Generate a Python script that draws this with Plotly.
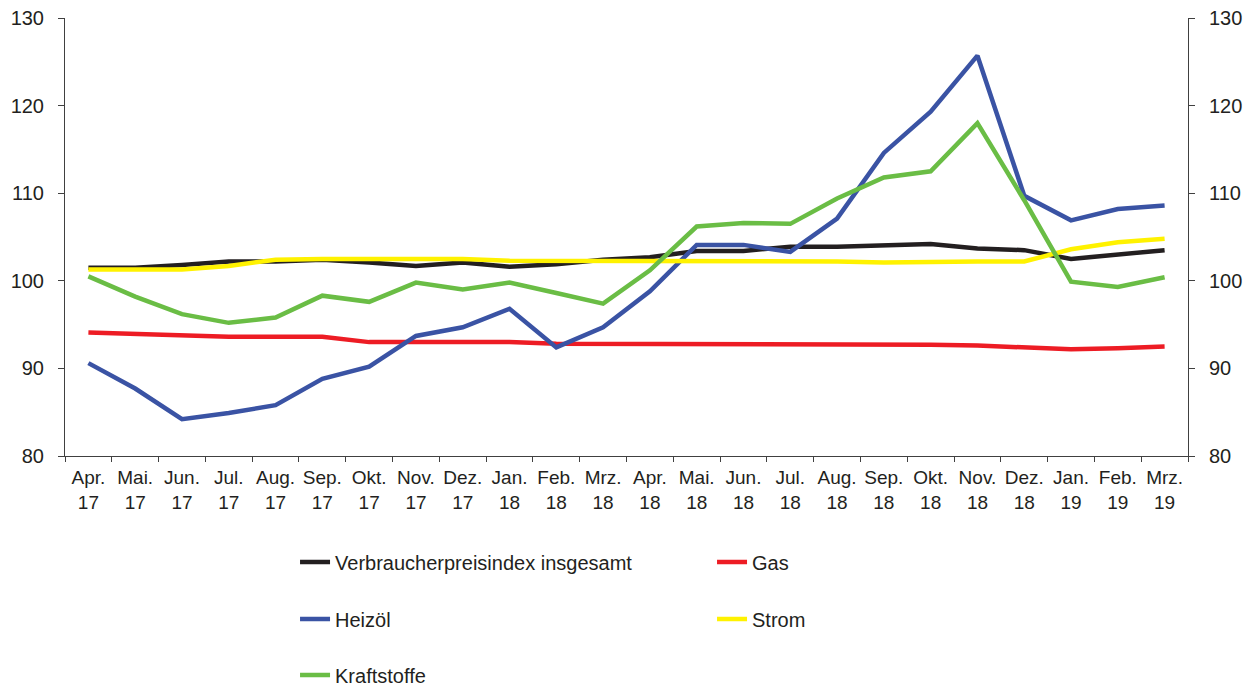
import plotly.graph_objects as go

months = ["Apr.", "Mai.", "Jun.", "Jul.", "Aug.", "Sep.", "Okt.", "Nov.", "Dez.", "Jan.", "Feb.", "Mrz.",
          "Apr.", "Mai.", "Jun.", "Jul.", "Aug.", "Sep.", "Okt.", "Nov.", "Dez.", "Jan.", "Feb.", "Mrz."]
years = ["17"] * 9 + ["18"] * 12 + ["19"] * 3
categories = [f"{m}<br>{y}" for m, y in zip(months, years)]

vpi = [101.5, 101.5, 101.8, 102.2, 102.2, 102.4, 102.1, 101.7, 102.1, 101.6, 101.9, 102.4,
       102.7, 103.4, 103.4, 103.9, 103.9, 104.1, 104.2, 103.7, 103.5, 102.5, 103.0, 103.5]
gas = [94.1, 93.9, 93.7, 93.6, 93.6, 93.6, 93.0, 93.0, 93.1, 93.0, 92.8, 92.8,
       92.8, 92.8, 92.8, 92.7, 92.7, 92.7, 92.7, 92.6, 92.4, 92.2, 92.3, 92.5]
heizoel = [90.6, 87.7, 84.2, 84.9, 85.8, 88.8, 90.2, 93.7, 94.7, 96.8, 92.4, 94.7,
           98.8, 104.1, 104.1, 103.3, 107.1, 114.6, 119.3, 125.7, 109.7, 106.9, 108.2, 108.6]
strom = [101.3, 101.3, 101.3, 101.7, 102.4, 102.5, 102.5, 102.5, 102.5, 102.3, 102.3, 102.3,
         102.3, 102.3, 102.3, 102.2, 102.2, 102.1, 102.2, 102.2, 102.2, 103.6, 104.4, 104.8]
kraftstoffe = [100.5, 98.2, 96.2, 95.2, 95.8, 98.3, 97.6, 99.8, 99.0, 99.8, 98.6, 97.4,
               101.2, 106.2, 106.6, 106.5, 109.4, 111.8, 112.5, 118.0, 109.2, 99.9, 99.3, 100.4]

names = ["Verbraucherpreisindex insgesamt", "Gas", "Heizöl", "Strom", "Kraftstoffe"]
colors = ["#231f20", "#ed1c24", "#3a53a4", "#fff200", "#6abd45"]
legends = ["legend", "legend", "legend2", "legend2", "legend3"]
series = [vpi, gas, heizoel, strom, kraftstoffe]

fig = go.Figure()
for name, vals, col, lg in zip(names, series, colors, legends):
    fig.add_trace(go.Scatter(x=categories, y=vals, mode="lines", name=name,
                             line=dict(color=col, width=4.5), legend=lg))
# invisible trace to activate right axis
fig.add_trace(go.Scatter(x=categories, y=vpi, yaxis="y2", mode="lines",
                         line=dict(width=0), showlegend=False, hoverinfo="skip"))

font_family = "Liberation Sans, Arial, sans-serif"
txt = "#231f20"
axcol = "#404040"

leg_common = dict(orientation="h", xanchor="left", yanchor="middle", x=0.2349,
                  xref="container", yref="container",
                  entrywidth=372, font=dict(size=20, color=txt, family=font_family),
                  bgcolor="rgba(0,0,0,0)", traceorder="normal")

fig.update_layout(
    width=1256, height=686,
    margin=dict(l=65, r=68, t=18, b=230, autoexpand=False),
    paper_bgcolor="white", plot_bgcolor="white",
    font=dict(family=font_family, color=txt),
    xaxis=dict(type="category", tickson="boundaries", ticks="outside", ticklen=5,
               tickcolor=axcol, linecolor=axcol, linewidth=1, showline=True, automargin=False,
               showgrid=False, tickfont=dict(size=19, color=txt), range=[-0.5, 23.5],
               ticklabelstandoff=4, tickangle=0),
    yaxis=dict(range=[80, 130], dtick=10, ticks="outside", ticklen=6, tickcolor=axcol,
               linecolor=axcol, linewidth=1, showline=True, showgrid=False, zeroline=False,
               automargin=False, tickfont=dict(size=20, color=txt), ticklabelstandoff=10),
    yaxis2=dict(range=[80, 130], dtick=10, ticks="outside", ticklen=6, tickcolor=axcol,
                linecolor=axcol, linewidth=1, showline=True, showgrid=False, zeroline=False,
                automargin=False, overlaying="y", side="right", tickfont=dict(size=20, color=txt),
                ticklabelstandoff=10),
    legend=dict(y=0.1808, **leg_common),
    legend2=dict(y=0.0977, **leg_common),
    legend3=dict(y=0.0160, **leg_common),
    showlegend=True,
)

fig.write_html("out.html", config={"displayModeBar": False},
               post_script="document.body.style.margin='0';")
